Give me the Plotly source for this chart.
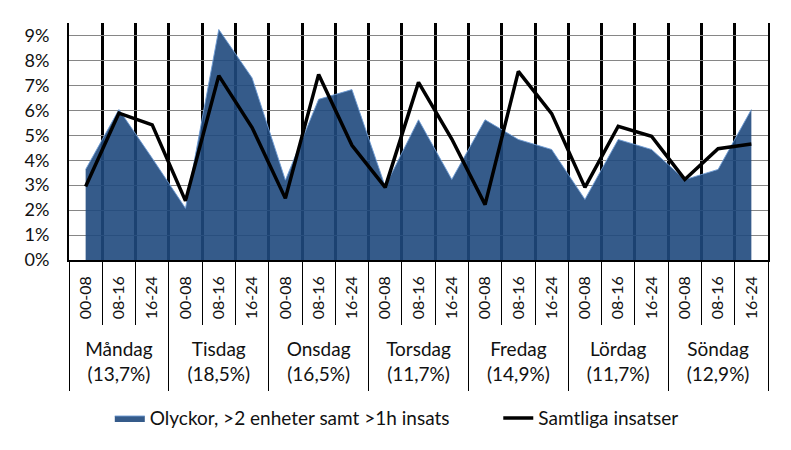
import plotly.graph_objects as go

days = ["Måndag", "Tisdag", "Onsdag", "Torsdag", "Fredag", "Lördag", "Söndag"]
day_shares = ["13,7%", "18,5%", "16,5%", "11,7%", "14,9%", "11,7%", "12,9%"]
slots = ["00-08", "08-16", "16-24"]
y_ticks = [0, 1, 2, 3, 4, 5, 6, 7, 8, 9]

# percent values per (day, slot)
olyckor = [3.63, 6.03, 4.08, 2.07, 9.24, 7.30, 3.20, 6.44, 6.83, 2.95, 5.62,
           3.23, 5.62, 4.83, 4.43, 2.43, 4.83, 4.43, 3.22, 3.63, 6.03]
samtliga = [2.95, 5.89, 5.42, 2.37, 7.39, 5.31, 2.47, 7.44, 4.60, 2.91, 7.12,
            4.85, 2.22, 7.56, 5.87, 2.91, 5.36, 4.96, 3.23, 4.46, 4.65]

n = len(olyckor)
xs = list(range(n))
slot_labels = slots * len(days)
day_labels = [f"{d}<br>({s})" for d, s in zip(days, day_shares)]
day_centers = [i * 3 + 1 for i in range(len(days))]
boundaries = [i - 0.5 for i in range(n + 1)]
day_bounds = [i * 3 - 0.5 for i in range(len(days) + 1)]

FONT = "Lato"
xr = [-0.5, n - 0.5]
NB = "\u00a0"

fig = go.Figure()
fig.add_trace(go.Scatter(
    x=xs, y=olyckor, name="Olyckor, >2 enheter samt >1h insats" + NB * 9,
    mode="lines", fill="tozeroy", fillcolor="rgba(31,73,125,0.9)",
    line=dict(color="rgba(110,155,212,0.9)", width=1),
))
fig.add_trace(go.Scatter(
    x=xs, y=samtliga, name="Samtliga insatser",
    mode="lines", line=dict(color="black", width=3.5),
))
# invisible carriers so the overlay axes (slot labels, day separators, day labels) are drawn
for ax in ["x2", "x3", "x4"]:
    fig.add_trace(go.Scatter(x=xs, y=samtliga, xaxis=ax, yaxis="y", mode="none",
                             showlegend=False, hoverinfo="skip"))

fig.update_layout(
    width=783, height=442,
    margin=dict(l=61, r=23, t=15, b=190, autoexpand=False),
    plot_bgcolor="white", paper_bgcolor="white",
    font=dict(family=FONT, size=18, color="#111111"),
    showlegend=True,
    legend=dict(orientation="h", x=0.130, xref="container", xanchor="left",
                y=0.072, yref="container", yanchor="middle",
                font=dict(size=19), traceorder="normal"),
    xaxis=dict(range=xr, tickmode="array", tickvals=boundaries,
               showticklabels=False,
               ticks="outside", ticklen=63, tickcolor="black", tickwidth=1,
               showgrid=True, gridcolor="black", gridwidth=2.5,
               zeroline=False, showline=True, linecolor="black", linewidth=1.5),
    xaxis2=dict(overlaying="x", anchor="y", side="bottom", range=xr,
                tickmode="array", tickvals=xs, ticktext=slot_labels,
                tickangle=-90, ticks="", showgrid=False, zeroline=False,
                showline=False, tickfont=dict(size=16), ticklabelstandoff=12),
    xaxis3=dict(overlaying="x", anchor="y", side="bottom", range=xr,
                tickmode="array", tickvals=day_bounds, showticklabels=False,
                ticks="outside", ticklen=130, tickcolor="black", tickwidth=1,
                showgrid=False, zeroline=False, showline=False),
    xaxis4=dict(overlaying="x", anchor="y", side="bottom", range=xr,
                tickmode="array", tickvals=day_centers, ticktext=day_labels,
                ticks="", showgrid=False, zeroline=False, showline=False,
                tickfont=dict(size=19), ticklabelstandoff=76),
    yaxis=dict(range=[0, 9.5], tickmode="array", tickvals=y_ticks,
               ticktext=[f"{v}%" for v in y_ticks],
               showgrid=True, gridcolor="#868686", gridwidth=1,
               zeroline=False, showline=True, linecolor="black", linewidth=2,
               mirror=True, ticks="", ticklabelstandoff=14),
)

fig.write_html("out.html")
